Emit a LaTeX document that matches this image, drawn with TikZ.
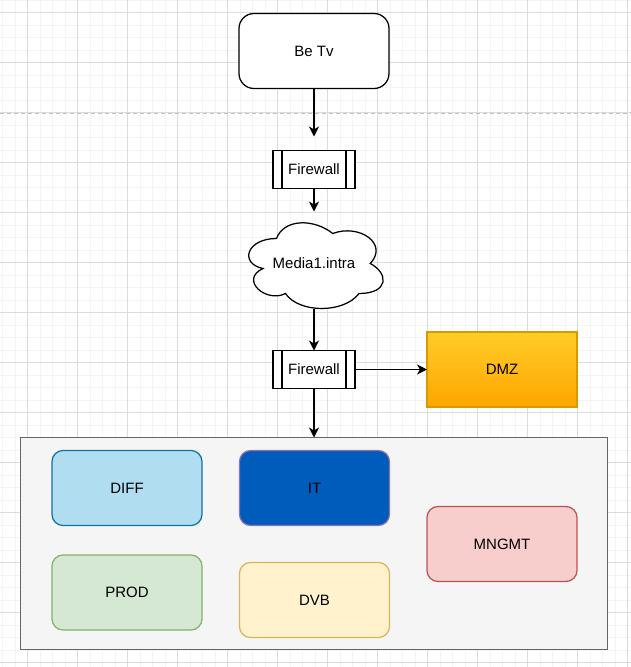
\documentclass[tikz,border=0pt]{standalone}
\usepackage{fontspec}
\setmainfont{Liberation Sans}
\usetikzlibrary{arrows.meta, positioning, calc}
\definecolor{gridminor}{HTML}{F4F4F4}
\definecolor{gridmajor}{HTML}{DCDCDC}
\definecolor{pagebreak}{HTML}{C0C0C0}
\definecolor{groupfill}{HTML}{F5F5F5}
\definecolor{groupedge}{HTML}{666666}
\definecolor{difffill}{HTML}{B1DDF0}
\definecolor{diffedge}{HTML}{10739E}
\definecolor{itfill}{HTML}{005CBB}
\definecolor{itedge}{HTML}{9673A6}
\definecolor{prodfill}{HTML}{D5E8D4}
\definecolor{prodedge}{HTML}{82B366}
\definecolor{dvbfill}{HTML}{FFF2CC}
\definecolor{dvbedge}{HTML}{D6B656}
\definecolor{mngmtfill}{HTML}{F8CECC}
\definecolor{mngmtedge}{HTML}{B85450}
\definecolor{dmztop}{HTML}{FFCD28}
\definecolor{dmzbottom}{HTML}{FFA500}
\definecolor{dmzedge}{HTML}{D79B00}
\tikzset{%
	box/.style={draw, rectangle, rounded corners=11pt, minimum width=150pt, minimum height=75pt,%
		inner sep=0pt, outer sep=0pt, line width=1.25pt},
	fwall/.style={draw, rectangle, fill=white, minimum width=82pt, minimum height=38pt,%
		inner sep=0pt, outer sep=0pt, line width=1.25pt,%
		path picture={%
			\draw[line width=1.25pt] ([xshift=9pt]path picture bounding box.north west) -- ([xshift=9pt]path picture bounding box.south west);
			\draw[line width=1.25pt] ([xshift=-9pt]path picture bounding box.north east) -- ([xshift=-9pt]path picture bounding box.south east);}},
	cloudbox/.style={rectangle, minimum width=150pt, minimum height=100pt, inner sep=0pt, outer sep=0pt},
	group/.style={draw=groupedge, fill=groupfill, rectangle, minimum width=587pt, minimum height=212pt,%
		inner sep=0pt, outer sep=0pt, line width=1.5pt},
	arr/.style={-{Stealth[length=10pt, width=10pt, inset=3pt]}, line width=1.25pt},
	minorgrid/.style={draw=gridminor, line width=0.9pt},
	majorgrid/.style={draw=gridmajor, line width=0.9pt}
}
\begin{document}
\begin{tikzpicture}[x=1pt, y=-1pt, font=\fontsize{15}{18}\selectfont]
	\fill[white] (0,0) rectangle (631,667);
	\useasboundingbox (0,0) rectangle (631,667);
	% grid
	\foreach \gx in {2.5,15,...,630} \draw[minorgrid] (\gx,0) -- (\gx,667);
	\foreach \gy in {0,12.5,...,667} \draw[minorgrid] (0,\gy) -- (631,\gy);
	\foreach \gx in {27.5,77.5,...,630} \draw[majorgrid] (\gx,0) -- (\gx,667);
	\foreach \gy in {12.5,62.5,...,667} \draw[majorgrid] (0,\gy) -- (631,\gy);
	\draw[pagebreak, line width=1pt, dash pattern=on 4pt off 3pt] (0,113.3) -- (631,113.3);

	\node[box, rounded corners=15pt, fill=white] (betv) at (314,51) {Be Tv};
	\node[fwall, below=62pt of betv] (fw1) {Firewall};
	\coordinate[below=25pt of fw1] (mediatop);
	\begin{scope}[shift={($(mediatop)+(-75,0)$)}]
		\draw[line width=1.25pt, fill=white] (37.5,25) .. controls (7.5,25) and (0,50) .. (24,55)
			.. controls (0,66) and (27,90) .. (46.5,80)
			.. controls (60,100) and (105,100) .. (120,80)
			.. controls (150,80) and (150,60) .. (131.25,50)
			.. controls (150,30) and (120,10) .. (93.75,20)
			.. controls (75,5) and (45,5) .. (37.5,25) -- cycle;
	\end{scope}
	\node[cloudbox, below=0pt of mediatop] (media) {Media1.intra};
	\node[fwall, below=37pt of media] (fw2) {Firewall};
	\node[box, sharp corners, draw=dmzedge, top color=dmztop, bottom color=dmzbottom, right=72pt of fw2] (dmz) {DMZ};
	\node[group, below=49pt of fw2] (cont) {};
	\node[box, draw=diffedge, fill=difffill, below right=13pt and 31.5pt of cont.north west] (diff) {DIFF};
	\node[box, draw=itedge, fill=itfill, right=37.5pt of diff] (it) {IT};
	\node[box, draw=prodedge, fill=prodfill, below=29.5pt of diff] (prod) {PROD};
	\node[box, draw=dvbedge, fill=dvbfill, below=37pt of it] (dvb) {DVB};
	\coordinate (mid) at ($(it.east)!0.5!(dvb.east)$);
	\node[box, draw=mngmtedge, fill=mngmtfill, right=37.5pt of mid] (mngmt) {MNGMT};

	\draw[arr, shorten >=14pt] (betv) to (fw1);
	\draw[arr, shorten >=2pt] (fw1) to (media);
	\draw[arr, shorten <=-5pt] (media) to (fw2);
	\draw[arr] (fw2) to (dmz);
	\draw[arr] (fw2) to (cont);
\end{tikzpicture}
\end{document}
